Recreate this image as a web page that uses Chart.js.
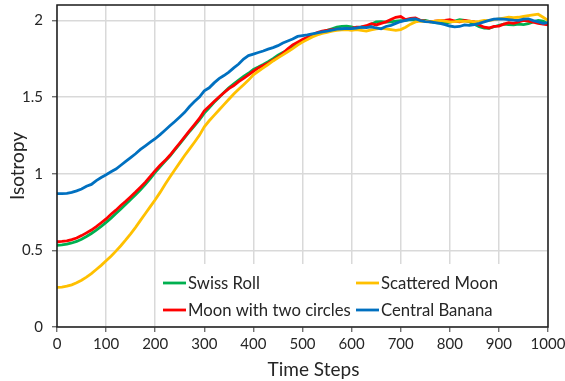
<!DOCTYPE html>
<html><head><meta charset="utf-8">
<script src="https://cdn.jsdelivr.net/npm/chart.js@4.4.1/dist/chart.umd.min.js"></script>
<style>html,body{margin:0;padding:0;background:#fff}</style>
</head><body>
<canvas id="c" width="565" height="381"></canvas>
<script>
const timeSteps = [0,10,20,30,40,50,60,70,80,90,100,110,120,130,140,150,160,170,180,190,200,210,220,230,240,250,260,270,280,290,300,310,320,330,340,350,360,370,380,390,400,410,420,430,440,450,460,470,480,490,500,510,520,530,540,550,560,570,580,590,600,610,620,630,640,650,660,670,680,690,700,710,720,730,740,750,760,770,780,790,800,810,820,830,840,850,860,870,880,890,900,910,920,930,940,950,960,970,980,990,1000];

const swissRoll = [0.533,0.535,0.540,0.548,0.558,0.572,0.590,0.610,0.632,0.656,0.682,0.710,0.740,0.770,0.800,0.832,0.862,0.895,0.930,0.968,1.008,1.045,1.080,1.115,1.155,1.195,1.235,1.275,1.312,1.350,1.395,1.430,1.465,1.497,1.530,1.560,1.585,1.610,1.635,1.655,1.680,1.695,1.712,1.730,1.750,1.772,1.790,1.805,1.828,1.848,1.868,1.885,1.900,1.912,1.925,1.935,1.945,1.955,1.960,1.962,1.958,1.948,1.955,1.960,1.975,1.990,1.992,1.988,1.990,1.995,1.998,2.000,2.005,2.002,1.998,2.000,1.992,1.985,1.982,1.980,1.988,1.995,2.005,2.000,1.990,1.975,1.958,1.950,1.948,1.958,1.968,1.975,1.972,1.970,1.975,1.972,1.978,1.990,2.000,1.995,1.975];

const scatteredMoon = [0.258,0.260,0.266,0.275,0.288,0.305,0.325,0.348,0.375,0.402,0.432,0.462,0.495,0.530,0.568,0.608,0.650,0.695,0.740,0.785,0.830,0.878,0.930,0.978,1.025,1.072,1.118,1.162,1.205,1.250,1.305,1.345,1.380,1.415,1.450,1.485,1.520,1.550,1.580,1.610,1.645,1.668,1.690,1.712,1.735,1.755,1.775,1.795,1.815,1.838,1.858,1.875,1.892,1.905,1.915,1.922,1.930,1.935,1.938,1.940,1.935,1.940,1.935,1.930,1.938,1.945,1.948,1.945,1.940,1.935,1.940,1.955,1.975,1.990,1.995,1.993,1.990,1.995,2.000,1.995,1.990,1.992,1.995,1.993,1.995,1.990,1.993,2.000,1.998,2.005,2.010,2.015,2.020,2.018,2.020,2.025,2.030,2.035,2.040,2.020,2.000];

const moonTwoCircles = [0.556,0.558,0.562,0.570,0.580,0.596,0.614,0.632,0.655,0.680,0.705,0.735,0.762,0.792,0.820,0.850,0.880,0.912,0.945,0.982,1.020,1.055,1.085,1.120,1.160,1.200,1.240,1.280,1.320,1.360,1.410,1.440,1.470,1.500,1.528,1.555,1.575,1.600,1.622,1.645,1.668,1.690,1.705,1.720,1.740,1.760,1.785,1.815,1.840,1.858,1.875,1.890,1.905,1.920,1.930,1.935,1.940,1.942,1.940,1.945,1.948,1.955,1.958,1.965,1.978,1.970,1.980,1.990,2.005,2.020,2.025,2.005,2.012,2.015,2.000,1.995,1.990,1.995,1.998,2.000,2.005,1.995,1.990,2.000,1.995,1.990,1.970,1.955,1.950,1.960,1.962,1.975,1.985,1.980,1.990,2.000,1.995,1.988,1.980,1.975,1.970];

const centralBanana = [0.870,0.870,0.872,0.878,0.888,0.900,0.918,0.930,0.955,0.975,0.993,1.012,1.030,1.055,1.080,1.105,1.130,1.158,1.182,1.205,1.228,1.255,1.283,1.312,1.340,1.370,1.400,1.438,1.470,1.500,1.540,1.560,1.592,1.620,1.640,1.662,1.690,1.715,1.748,1.770,1.780,1.790,1.800,1.812,1.822,1.835,1.852,1.865,1.878,1.895,1.900,1.905,1.912,1.918,1.925,1.930,1.936,1.942,1.945,1.948,1.946,1.950,1.955,1.952,1.958,1.950,1.945,1.960,1.967,1.980,1.992,2.000,2.008,2.010,1.998,1.992,1.990,1.985,1.980,1.972,1.963,1.958,1.960,1.970,1.967,1.972,1.980,1.990,2.000,2.008,2.010,2.008,2.005,2.002,2.000,2.008,2.010,1.998,1.990,1.980,1.985];

const xTickValues = [0,100,200,300,400,500,600,700,800,900,1000];
const yTickValues = [0,0.5,1,1.5,2];
const xTitle = 'Time Steps';
const yTitle = 'Isotropy';

const seriesNames = ['Swiss Roll','Scattered Moon','Moon with two circles','Central Banana'];
const seriesValues = [swissRoll, scatteredMoon, moonTwoCircles, centralBanana];
const seriesColors = ['#00b050','#ffc000','#ff0000','#0070c0'];
const drawOrder = [3,1,2,0]; // first drawn on top

const FONT = 'Lato, "Open Sans", sans-serif';
const TEXT = '#262626';

const datasets = drawOrder.map(i => ({
  label: seriesNames[i],
  data: timeSteps.map((t, k) => ({x: t, y: seriesValues[i][k]})),
  borderColor: seriesColors[i],
  backgroundColor: seriesColors[i],
  borderWidth: 2.8,
  pointRadius: 0,
  tension: 0,
  fill: false
}));

const frame = {
  id: 'frame',
  beforeDatasetsDraw(chart) {
    const {ctx, chartArea: a} = chart;
    const bx = a.left + 101, by = a.bottom - 63;
    ctx.save();
    ctx.fillStyle = '#fff';
    ctx.fillRect(bx, by, a.right - bx - 1, a.bottom - by - 1);
    const rows = [[0,1],[2,3]];
    const colX = [a.left + 106, a.left + 299];
    const rowY = [a.bottom - 44, a.bottom - 17];
    ctx.font = '16.7px ' + FONT;
    ctx.textBaseline = 'middle';
    ctx.textAlign = 'left';
    rows.forEach((r, ri) => r.forEach((si, ci) => {
      const x = colX[ci], y = rowY[ri];
      ctx.strokeStyle = seriesColors[si];
      ctx.lineWidth = 2.8;
      ctx.beginPath(); ctx.moveTo(x, y); ctx.lineTo(x + 23, y); ctx.stroke();
      ctx.fillStyle = TEXT;
      ctx.fillText(seriesNames[si], x + 25, y + 1);
    }));
    ctx.restore();
  },
  afterDraw(chart) {
    const {ctx, chartArea: a} = chart;
    ctx.save();
    ctx.strokeStyle = '#1a1a1a';
    ctx.lineWidth = 1.5;
    ctx.strokeRect(a.left, a.top, a.right - a.left, a.bottom - a.top);
    // axis titles
    ctx.fillStyle = TEXT;
    ctx.textAlign = 'center';
    ctx.textBaseline = 'middle';
    ctx.font = '19px ' + FONT;
    ctx.fillText(xTitle, (a.left + a.right) / 2 + 11, 370);
    ctx.translate(18, (a.top + a.bottom) / 2);
    ctx.rotate(-Math.PI / 2);
    ctx.font = '19px ' + FONT;
    ctx.fillText(yTitle, 0, 0);
    ctx.restore();
  }
};

new Chart(document.getElementById('c'), {
  type: 'line',
  data: { datasets },
  plugins: [frame],
  options: {
    responsive: false,
    animation: false,
    layout: { padding: { top: 5, right: 17, left: 0, bottom: 0 } },
    plugins: { legend: { display: false }, tooltip: { enabled: false } },
    scales: {
      x: {
        type: 'linear', min: 0, max: 1000,
        afterFit(s) { s.height = 54; s.paddingLeft = 0; s.paddingRight = 0; },
        afterBuildTicks(s) { s.ticks = xTickValues.map(v => ({value: v})); },
        grid: { color: '#d9d9d9', lineWidth: 1.5, tickLength: 5, tickColor: '#595959', tickWidth: 1.2 },
        border: { display: false },
        ticks: { font: { family: FONT, size: 15 }, color: TEXT, padding: 3, maxRotation: 0,
                 callback: v => String(v) },
        title: { display: false }
      },
      y: {
        type: 'linear', min: 0, max: 2.1,
        afterFit(s) { s.width = 57; s.paddingTop = 0; s.paddingBottom = 0; },
        afterBuildTicks(s) { s.ticks = yTickValues.map(v => ({value: v})); },
        grid: { color: '#d9d9d9', lineWidth: 1.5, tickLength: 5, tickColor: '#595959', tickWidth: 1.2 },
        border: { display: false },
        ticks: { font: { family: FONT, size: 15 }, color: TEXT, padding: 9,
                 callback: v => String(v) },
        title: { display: false }
      }
    }
  }
});
</script>
</body></html>
